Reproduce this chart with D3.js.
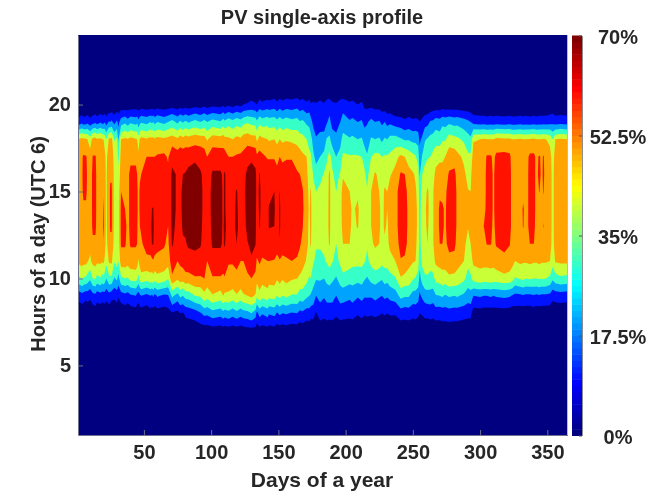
<!DOCTYPE html>
<html>
<head>
<meta charset="utf-8">
<script src="https://cdn.jsdelivr.net/npm/d3@7"></script>
<style>
  html, body { margin: 0; background: #fff; }
  svg { filter: blur(0.45px); }
  text { font-family: "Liberation Sans", Arial, sans-serif; font-weight: bold; fill: #262626; }
</style>
</head>
<body>
<script>
// Hours that have a reading in pv (all other hours are night, below the first level)
const hours = [7, 8, 9, 10, 11, 12, 13, 14, 15, 16, 17, 18, 19, 20];

const days = [1, 4, 5, 7, 8, 10, 12, 14, 15, 18, 19, 20, 21, 22, 24, 25, 26, 28, 30, 31,
  33, 36, 38, 40, 44, 45, 46, 47, 48, 52, 55, 56, 57, 58, 60, 65, 68, 71, 75, 77,
  79, 81, 83, 88, 92, 95, 97, 101, 107, 109, 110, 113, 116, 119, 122, 124, 127, 130, 133, 134,
  136, 138, 142, 143, 147, 149, 151, 153, 156, 160, 164, 166, 168, 171, 173, 174, 176, 178, 181, 184,
  186, 188, 190, 193, 196, 198, 203, 205, 209, 212, 214, 216, 219, 222, 225, 227, 229, 231, 233, 237,
  241, 244, 247, 250, 252, 254, 255, 257, 259, 261, 263, 265, 267, 270, 272, 274, 277, 281, 283, 288,
  291, 293, 295, 300, 303, 305, 308, 310, 312, 318, 322, 324, 326, 330, 332, 334, 337, 340, 342, 344,
  346, 347, 349, 352, 354, 356, 360, 365];

// Output in percent, one row per day in days, one value per hour in hours
const pv = [
  [0,3,13,37,52,56,57,57,58,58,57,50,13,0],
  [0,3,16,41,54,56,58,59,59,59,59,53,17,0],
  [0,3,15,39,53,56,58,59,61,62,61,52,14,0],
  [0,2,13,38,53,56,58,59,61,62,60.5,51,15,0],
  [0,3,14,36,51,55,57,58,59,59,59,50,17,0],
  [0,3,12,32,48,53,54,55,55,55,54,45,13,0],
  [0,4,16,40,53,58,62,62,62,62,60.5,53,16,0],
  [0,5,17,41,54,58,62,62,62,62,60.5,54,18,0],
  [0,4,14,37,52,56,57,58,58,58,58,51,15,0],
  [0,3,16,39,52,55,56,57,57,57,57,52,19,0],
  [0,3,14,36,51,55,56,57,57,57,56,50,16,0],
  [0,3,15,38,52,59.5,62,61,59.5,57,56,50,17,0],
  [0,4,15,35,48,53,54,54,54,53,52,46,19,0],
  [0,3,13,30,43,47,48,48,48,48,47,40,15,0],
  [0,4,16,37,51,55,56,57,57,57,56,51,21,0],
  [0,3,15,38,52,58,61,61,61,59,57,52,20,0],
  [0,2,13,38,52,58,61,61,61,59,57,53,22,1],
  [0,3,12,29,41,46,47,47,47,47,46,39,17,0],
  [0,4,14,32,44,47,48,48,48,47,46,42,22,2],
  [0,2,11,26,40,44,44,44,44,43,37,28,17,2],
  [0,3,15,38,56,61,62,62,60,55,54,50,25,3],
  [0,4,17,40,56,61,62,60,58,56,55,52,28,2],
  [0,3,15,39,54,57,58,58,58,58,57,51,24,3],
  [0,4,18,43,56,61,62,62,62,62,58,53,28,3],
  [0,5,20,44,56,61,62,62,62,62,58,51,26,4],
  [0,4,16,41,55,60,61,61,61,60,57,50,28,3],
  [0,3,15,37,49,54,56,58,58,56,52,45,23,3],
  [0,5,18,43,54,58,60,61,61,59,56,51,27,3],
  [0,5,20,46,57,59,61,62,62,60,57,53,29,4],
  [0,4,17,44,58,63,64,64,63,62,60,51,27,3],
  [0,6,20,46,58,64,67,66,64,63,60,53,30,3],
  [0,5,18,45,58,70.5,72,70.2,67,64,60,52,28,4],
  [0,6,21,47,59,70.5,72,70.2,67,64,60,53,30,3],
  [0,5,17,44,58,64,66,66,65,64,60,51,27,3],
  [0,6,21,47,58,62,64,65,65,65,61,53,30,4],
  [0,5,18,45,57,61,64,65,65,65,62,52,27,3],
  [0,6,19,41,54,58,60,62,62,62,59,53,30,3],
  [1,9,32,58,66,71,72,72,72,72,67,55,33,5],
  [1,7,26,52,60,66,68,69,69,69,65,52,28,3],
  [2,10,32,55,62,67,68,69,69,69,66,55,32,5],
  [2,9,30,54,64,69,71,71,71,70,66,53,29,4],
  [3,12,34,57,65,69.5,71,71,71,70.5,66,55,32,5],
  [3,13,34,56,67,71,73,73,73,72,67,54,29,4],
  [3,15,40,59,67,72,74,74,74,74,68,56,33,6],
  [4,19,41,59,66,71,72,72,72,71,67,55,30,5],
  [4,23,47,60,63,66,67,68,68,68,65,54,33,7],
  [4,22,44,56,60,64,65,66,66,65,60,49,30,5],
  [5,26,49,59,67,71,72,72,72,71,66,55,34,7],
  [4,24,46,59,67,71,72,72,72,71,66,54,31,6],
  [5,27,50,58,65,69,69,69,69,69,65,55,35,8],
  [4,25,48,59,66.5,71,72,71,71,71,65,53,32,6],
  [5,27,48,56,61,65,66,66,66,66,60,52,36,8],
  [4,24,46,56,61,66,67,68,68,67,60,50,33,6],
  [5,27,49,58,62,70,72,71,70.5,67,61,53,36,9],
  [4,24,46,56,60,64,66,67,67,66,62,52,34,7],
  [5,26,49,57,60,65,67,68,68,67,63,55,37,10],
  [6,27,50,59,62,69.5,72,72,73,72,67,56,39,11],
  [6,30,52,60,69,72,74,74,74,74,68,54,37,13],
  [6,25,49,58,63,70.5,72,72,72,72,66,54,36,11],
  [5,17,42,53,59,64,66,67,68,67,62,48,32,10],
  [6,24,47,56,61,67,70.5,71,71,70.5,64,53,38,14],
  [5,21,43,54,59,64,67,68,68,67,62,52,35,12],
  [6,24,46,55,60,65,67,68,68,66,59,50,37,14],
  [5,21,43,54,60,66,70.5,70.5,68,66,59,49,35,13],
  [6,23,44,54,59.5,66,70,71,70,66,59,50,36,15],
  [4,19,40,51,58,63,65,66,65,63,57,47,33,12],
  [5,22,43,53,59,69.5,71,71,70.2,66,60,50,36,15],
  [4,20,40,51,58,64,65,66,65,64,58,48,33,13],
  [5,21,42,53,59,64,65,66,66,65,59,49,35,15],
  [4,19,39,51,60,65,66,67,67,65,59,48,33,14],
  [4,20,39,50,59,63,65,66,66,61,56,47,34,16],
  [3,17,35,48,57,61,62,63,63,60,54,45,31,13],
  [4,18,36,46,54,58,60.5,62,61,57,52,43,32,15],
  [3,15,32,43,49,52,53,53,53,52,50,40,28,12],
  [3,16,30,39,45,48,48,49,48,46,42,37,27,14],
  [2,14,29,40,47,51,52,52,51,47,42,34,24,11],
  [3,14,26,34,41,44,44,44,43,39,32,26,17,12],
  [1,9,20,31,38,41,41,41,40,34,27,21,15,11],
  [3,15,23,31,38,41,43,43,42,37,30,23,16,13],
  [3,13,21,30,39,42,44,45,44,41,33,24,15,11],
  [3,15,23,33,41,46,47,47,46,44,38,31,19,14],
  [3,14,24,34,44,51,52,52,52,52,44,32,23,15],
  [3,15,23,32,41,44,45,45,45,42,36,26,16,12],
  [2,12,20,29,37,40,41,41,40,36,30,23,15,11],
  [3,15,24,34,42,46,47,47,46,41,33,27,20,14],
  [3,14,24,37,46,50,52,53,53,49,42,33,25,15],
  [3,13,22,34,45,50,52,52,50,46,41,31,21,12],
  [3,14,24,34,43,47,48,49,48,46,41,32,22,13],
  [2,11,21,33,43,47,50.5,51,49,46,41,30,20,10],
  [3,13,23,34,43,46,47,47,46,44,40,31,21,12],
  [2,11,21,31,41,44,45,45,44,42,36,26,17,8],
  [2,12,21,29,38,41,41,41,41,37,31,25,19,7],
  [3,11,21,33,43,49,50,50,50,47,40,31,23,7],
  [3,12,23,34,47,51,52,53,53,51,43,30,20,6],
  [3,11,21,32,46,50,51,51,50,48,42,31,21,6],
  [2,10,20,31,43,47,48,48,47,45,40,28,18,4],
  [3,11,22,34,44,49,51,51,51,47,41,31,20,4],
  [2,10,21,33,45,48,49,50,50,47,41,30,17,2],
  [3,11,23,36,47,52,53,53,53,49,42,33,18,2],
  [2,11,25,39,50,53,55,55,55,53,47,34,15,0],
  [3,15,33,49,59,65,67,67,67,61,52,31,14,0],
  [3,14,31,47,58,64,65,65,64,60,50,29,12,0],
  [3,15,31,46,53,56,57,57,56,53,46,29,14,0],
  [3,13,26,41,51,53,54,54,54,51,43,27,12,0],
  [3,14,26,39,50,51,52,52,51,49,41,27,13,0],
  [3,12,24,36,45,48,48,48,47,44,36,26,12,0],
  [3,10,18,27,33,36,36,35,34,29,24,18,10,0],
  [3,11,22,34,43,46,47,47,45,40,31,22,13,0],
  [3,13,25,38,47,49,49,49,48,44,37,29,16,1],
  [3,13,26,38,47,50,51,52,51,47,39,31,17,1],
  [3,14,26,37,44,47,47,47,47,44,40,33,21,2],
  [3,13,25,37,46,49,49,49,49,47,43,34,22,3],
  [3,15,29,43,52,56,56,56,56,52,47,36,25,3],
  [4,14,30,44,54,60,61,61,59,54,48,35,24,3],
  [4,15,31,46,54,60,61,61,58,54,48,39,27,4],
  [4,15,29,45,55,58,59,59,58,56,50,39,26,3],
  [4,16,31,48,57,63,64,64,64,61,56,45,28,3],
  [4,15,30,47,57,62,64,64,64,62,56,43,26,3],
  [4,15,31,46,54,57,58,58,58,57,53,42,27,3],
  [3,14,28,42,50,52,53,53,53,52,48,38,24,2],
  [3,13,25,36,43,47,50.5,51,50.5,47,42,34,22,2],
  [3,13,26,38,46,50,51,51,50,48,42,32,20,1],
  [0,5,20,44,52,55,55,55,55,56,55,49,16,1],
  [0,6,21,46,53,55,56,56,56,56,56,50,15,1],
  [0,5,20,45,53,56,60.5,58,57,57,56,51,15,1],
  [0,5,20,45,53,60.5,62,62,62,62,61,50,14,1],
  [0,5,21,46,53,60.5,62,62,62,62,61,50,15,1],
  [0,5,20,45,53,57,58,59,59,59,58,50,14,1],
  [0,5,21,45,55,61,63,63,63,63,62,53,15,1],
  [0,5,22,47,58,62,64,64,64,64,63,52,14,1],
  [0,5,21,46,56,60.5,63,63,63,63,62,52,15,1],
  [0,4,19,44,53,56,57,57,57,57,56,50,14,1],
  [0,5,17,39,50,54,55,55,55,55,55,50,14,1],
  [0,4,18,41,52,55,56,56,56,56,56,51,15,1],
  [0,4,19,42,51,57,60.5,61,58,56,56,50,14,1],
  [0,4,18,40,51,55,57,57,57,57,56,50,15,1],
  [0,4,18,41,52,60,62,62,62,62,62,51,14,1],
  [0,5,19,40,51,60,62,62,62,62,62,52,15,1],
  [0,4,18,40,51,56,57,58,58,58,58,50,14,1],
  [0,4,19,41,52,55,56,57,60.2,62,61,50,15,1],
  [0,4,18,40,51,55,56,57,58,58,58,50,15,1],
  [0,4,18,41,51,56,60.5,58,60.5,62,61,51,15,1],
  [0,4,18,40,51,55,56,56,56,56,56,50,15,1],
  [0,4,17,38,50,53,54,54,54,54,53,48,16,2],
  [0,3,13,32,44,47,47,47,47,47,46,40,17,2],
  [0,3,14,36,51,54,55,55,55,55,54,50,15,1],
  [0,3,15,38,52,55,55,56,56,56,55,51,16,1],
  [0,3,14,37,52,55,56,56,56,56,55,50,15,1]
];

const levels = [10, 20, 30, 40, 50, 60, 70];
const dayTicks = [50, 100, 150, 200, 250, 300, 350];
const hourTicks = [5, 10, 15, 20];
const barTicks = [0, 17.5, 35, 52.5, 70];

if (days.length !== pv.length) throw new Error("days " + days.length + " rows " + pv.length);

// MATLAB jet, t in 0..1
function jet(t) {
  let c = v => Math.round(255 * Math.max(0, Math.min(1, v)));
  let r = c(Math.min(4 * t - 1.5, -4 * t + 4.5));
  let g = c(Math.min(4 * t - 0.5, -4 * t + 3.5));
  let b = c(Math.min(4 * t + 0.5, -4 * t + 2.5));
  return `rgb(${r},${g},${b})`;
}

const svg = d3.select("body").append("svg")
    .attr("width", 664)
    .attr("height", 492)
    .style("display", "block");

const x = d3.scaleLinear().domain([1, 365]).range([78, 567.5]);
const y = d3.scaleLinear().domain([1, 24]).range([435, 35]);

svg.append("clipPath").attr("id", "plot")
  .append("rect")
    .attr("x", x(1)).attr("y", y(24))
    .attr("width", x(365) - x(1)).attr("height", y(1) - y(24));

// Night rows above and below the readings close the contours
const gridHours = [hours[0] - 1, ...hours, hours[hours.length - 1] + 1];
const values = [];
gridHours.forEach((h, j) => {
  let k = hours.indexOf(h);
  days.forEach((d, i) => values.push(k < 0 ? 0 : pv[i][k]));
});

// d3.contours puts sample i at i + 0.5, the days are not evenly spaced
const dayAt = d3.scaleLinear().domain(d3.range(days.length)).range(days);
const hourAt = d3.scaleLinear().domain(d3.range(gridHours.length)).range(gridHours);

const path = d3.geoPath().projection(d3.geoTransform({
  point: function(gx, gy) {
    this.stream.point(x(dayAt(gx - 0.5)), y(hourAt(gy - 0.5)));
  }
}));

const contours = d3.contours()
    .size([days.length, gridHours.length])
    .thresholds(levels)(values);

const plot = svg.append("g").attr("clip-path", "url(#plot)");

plot.append("rect")
    .attr("x", x(1)).attr("y", y(24))
    .attr("width", x(365) - x(1)).attr("height", y(1) - y(24))
    .attr("fill", jet(0));

plot.selectAll("path")
  .data(contours)
  .enter().append("path")
    .attr("d", path)
    .attr("fill", (d, i) => jet((i + 1) / levels.length));

// Axes
const xAxis = svg.append("g")
    .attr("transform", `translate(0,${y(1)})`)
    .call(d3.axisBottom(x).tickValues(dayTicks).tickSizeInner(-5).tickSizeOuter(0).tickPadding(10));
const yAxis = svg.append("g")
    .attr("transform", `translate(${x(1)},0)`)
    .call(d3.axisLeft(y).tickValues(hourTicks).tickSizeInner(-5).tickSizeOuter(0).tickPadding(7));

[xAxis, yAxis].forEach(a => {
  a.selectAll("path, line").attr("stroke", "#6f6f8f").attr("stroke-width", 1);
  a.selectAll("text").attr("font-size", 20).attr("fill", "#262626");
  a.attr("font-family", null);
});

svg.append("line")
    .attr("x1", x(365)).attr("x2", x(365))
    .attr("y1", y(24)).attr("y2", y(1))
    .attr("stroke", "#b9b9c9");

// Colour bar, 64 steps of jet
const barY = d3.scaleLinear().domain([0, 70]).range([435.5, 35.5]);
const steps = d3.range(64);
svg.append("g").selectAll("rect")
  .data(steps)
  .enter().append("rect")
    .attr("x", 572)
    .attr("width", 10)
    .attr("y", d => barY((d + 1) * 70 / 64))
    .attr("height", d => barY(d * 70 / 64) - barY((d + 1) * 70 / 64) + 0.5)
    .attr("fill", d => jet(d / 63));

const barAxis = svg.append("g")
    .attr("transform", "translate(582,0)")
    .call(d3.axisRight(barY).tickValues(barTicks).tickFormat(d => d + "%").tickSizeInner(-3).tickSizeOuter(0));
barAxis.select("path").attr("stroke", "#8c8c8c");
barAxis.selectAll("line").attr("stroke", "#555");
barAxis.selectAll("text")
    .attr("x", 36)
    .attr("y", 2)
    .attr("text-anchor", "middle")
    .attr("font-size", 20)
    .attr("fill", "#262626");
barAxis.attr("font-family", null);

// Titles
svg.append("text")
    .attr("x", 322).attr("y", 24)
    .attr("text-anchor", "middle")
    .attr("font-size", 20)
    .text("PV single-axis profile");

svg.append("text")
    .attr("x", 322).attr("y", 487)
    .attr("text-anchor", "middle")
    .attr("font-size", 21)
    .text("Days of a year");

svg.append("text")
    .attr("transform", "translate(45,244) rotate(-90)")
    .attr("text-anchor", "middle")
    .attr("font-size", 20)
    .text("Hours of a day (UTC 6)");
</script>
</body>
</html>
